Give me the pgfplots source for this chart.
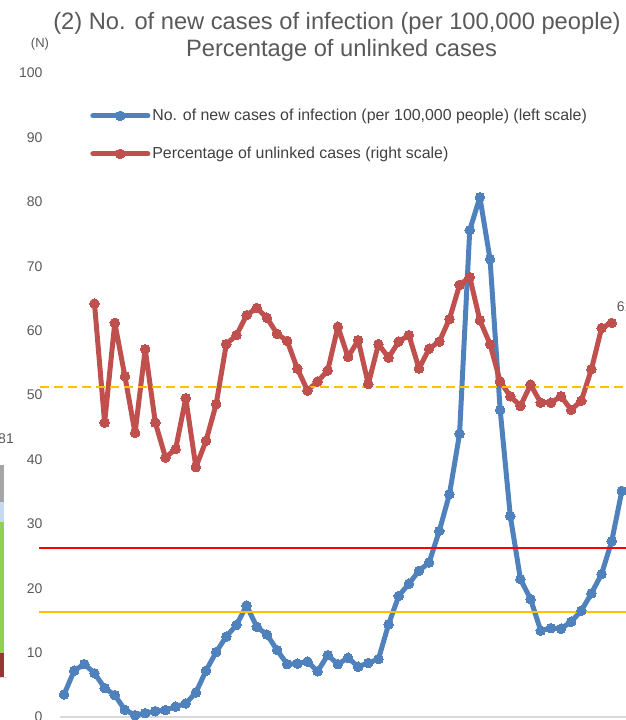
\documentclass[border=0pt]{standalone}
\usepackage{fontspec}
\setmainfont{Liberation Sans}
\usepackage{pgfplots}
\pgfplotsset{compat=1.18}
\definecolor{cblue}{HTML}{4F81BD}
\definecolor{cred}{HTML}{C0504D}
\definecolor{cgold}{HTML}{FFC000}
\definecolor{ctext}{HTML}{595959}
\definecolor{clegend}{HTML}{404040}
\definecolor{caxis}{HTML}{D9D9D9}
\definecolor{fgray}{HTML}{A5A5A5}
\definecolor{fblue}{HTML}{C5D9F1}
\definecolor{fgreen}{HTML}{92D050}
\definecolor{fred}{HTML}{953735}
\pgfplotstableread{
x y
0 3.5
1 7.2
2 8.2
3 6.8
4 4.5
5 3.4
6 1.1
7 0.3
8 0.6
9 0.9
10 1.1
11 1.6
12 2.1
13 3.8
14 7.2
15 10.1
16 12.5
17 14.3
18 17.3
19 14.0
20 12.8
21 10.4
22 8.2
23 8.3
24 8.6
25 7.1
26 9.6
27 8.2
28 9.2
29 7.8
30 8.4
31 9.0
32 14.4
33 18.8
34 20.7
35 22.7
36 24.0
37 28.9
38 34.6
39 44.0
40 75.6
41 80.7
42 71.1
43 47.7
44 31.2
45 21.4
46 18.3
47 13.4
48 13.8
49 13.7
50 14.8
51 16.5
52 19.2
53 22.2
54 27.3
55 35.1
}\cases
\pgfplotstableread{
x y
3 64.2
4 45.7
5 61.2
6 52.9
7 44.1
8 57.1
9 45.7
10 40.3
11 41.6
12 49.5
13 38.8
14 42.9
15 48.6
16 57.9
17 59.3
18 62.4
19 63.5
20 62.0
21 59.5
22 58.4
23 54.1
24 50.7
25 52.1
26 53.8
27 60.6
28 55.9
29 58.5
30 51.7
31 57.9
32 55.8
33 58.3
34 59.3
35 54.1
36 57.2
37 58.3
38 61.8
39 67.1
40 68.3
41 61.6
42 57.9
43 52.1
44 49.8
45 48.3
46 51.6
47 48.8
48 48.8
49 49.8
50 47.7
51 49.1
52 54.0
53 60.4
54 61.2
}\unlinked
\begin{document}
\begin{tikzpicture}
% fragment of the neighbouring chart at the left edge
\fill[fgray] (0pt,218pt) rectangle (4pt,255pt);
\fill[fblue] (0pt,198pt) rectangle (4pt,218pt);
\fill[fgreen] (0pt,67pt) rectangle (4pt,198pt);
\fill[fred] (0pt,42pt) rectangle (4pt,67pt);
\draw[caxis, line width=1pt] (0pt,42pt) -- (7pt,42pt);
\node[anchor=east, inner sep=0pt, font=\fontsize{14}{16}\selectfont, text=ctext] at (14pt,281pt) {81};
% title
\node[anchor=base, inner sep=0pt, font=\fontsize{23.7}{28}\selectfont, text=ctext] at (337pt,690pt) {(2) No. of new cases of infection (per 100,000 people)};
\node[anchor=base, inner sep=0pt, font=\fontsize{23.7}{28}\selectfont, text=ctext] at (341.5pt,663pt) {Percentage of unlinked cases};
\node[inner sep=0pt, font=\fontsize{13}{15}\selectfont, text=ctext] at (40pt,676pt) {(N)};
\begin{axis}[
  at={(60pt,3pt)}, anchor=south west,
  scale only axis, width=572pt, height=644pt,
  xmin=-0.4, xmax=56, ymin=0, ymax=100,
  clip=false,
  axis x line*=bottom, axis y line*=left,
  x axis line style={draw=caxis, line width=1.5pt, -},
  y axis line style={draw=none},
  xtick=\empty,
  ytick={0,10,...,100},
  major tick length=0pt,
  yticklabel style={font=\fontsize{14}{16}\selectfont, text=ctext, xshift=-14pt},
  /pgf/number format/assume math mode=true,
  legend style={at={(axis description cs:0.0527,0.947)}, anchor=north west, draw=none, fill=none,
    inner sep=0pt, row sep=21pt, font=\fontsize{15.9}{17}\selectfont, text=clegend,
    cells={anchor=west}},
  legend image code/.code={\draw[mark repeat=2,mark phase=2,#1] plot coordinates {(0pt,0pt) (27.5pt,0pt) (55pt,0pt)};},
]
\addplot[cblue, line width=5pt, line join=round, line cap=round, mark=*, mark size=4.8pt, mark options={fill=cblue, draw=cblue, line width=0pt}] table[x=x,y=y] {\cases};
\addlegendentry{No. of new cases of infection (per 100,000 people) (left scale)}
\addplot[cred, line width=5pt, line join=round, line cap=round, mark=*, mark size=4.8pt, mark options={fill=cred, draw=cred, line width=0pt}] table[x=x,y=y] {\unlinked};
\addlegendentry{Percentage of unlinked cases (right scale)}
\addplot[red, line width=2pt, forget plot] coordinates {(-2.47,26.3) (57,26.3)};
\addplot[cgold, line width=2pt, forget plot] coordinates {(-2.47,16.3) (57,16.3)};
\addplot[cgold, line width=2pt, dash pattern=on 9pt off 5pt, forget plot] coordinates {(-2.37,51.3) (57,51.3)};
\node[anchor=west, inner sep=0pt, font=\fontsize{14}{16}\selectfont, text=ctext, xshift=5pt, yshift=16pt] at (axis cs:54,61.2) {61};
\end{axis}
\pgfresetboundingbox
\path[use as bounding box] (0pt,0pt) rectangle (625pt,720pt);
\end{tikzpicture}
\end{document}
